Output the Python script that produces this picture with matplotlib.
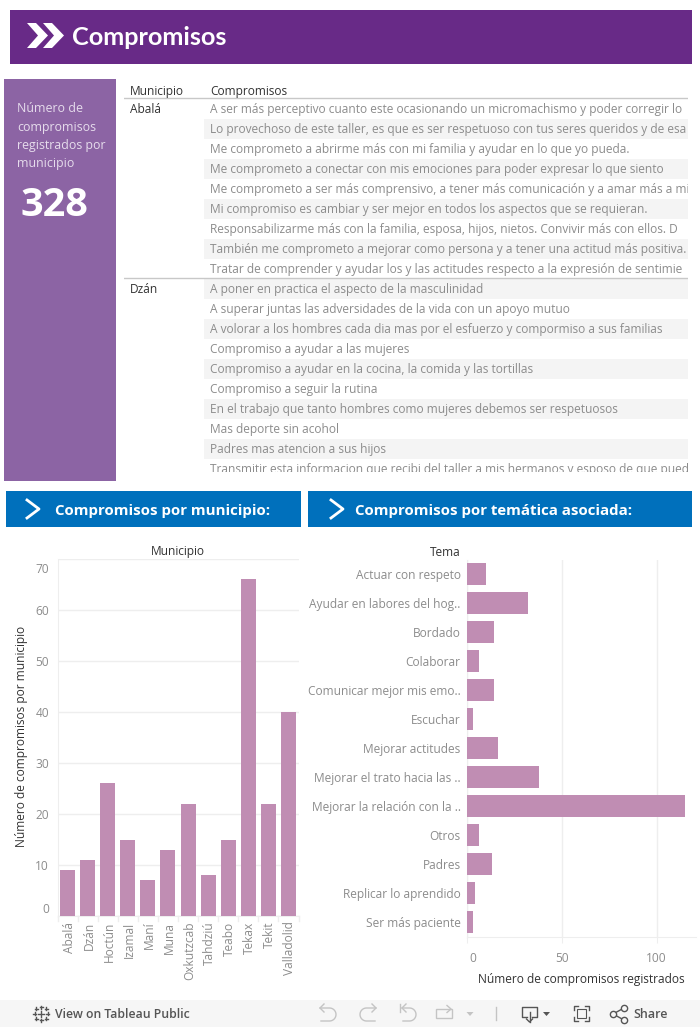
import matplotlib
matplotlib.use('Agg')
import numpy as np
import matplotlib.pyplot as plt
from matplotlib.patches import Rectangle, Polygon
from matplotlib.transforms import ScaledTranslation

plt.rcParams['font.family'] = ['Open Sans', 'DejaVu Sans']

municipios = ['Abalá', 'Dzán', 'Hoctún', 'Izamal', 'Maní', 'Muna', 'Oxkutzcab', 'Tahdziú',
              'Teabo', 'Tekax', 'Tekit', 'Valladolid']
por_municipio = [9, 11, 26, 15, 7, 13, 22, 8, 15, 66, 22, 40]
yticks_municipio = [0, 10, 20, 30, 40, 50, 60, 70]

temas = ['Actuar con respeto', 'Ayudar en labores del hog..', 'Bordado', 'Colaborar',
         'Comunicar mejor mis emo..', 'Escuchar', 'Mejorar actitudes', 'Mejorar el trato hacia las ..',
         'Mejorar la relación con la ..', 'Otros', 'Padres', 'Replicar lo aprendido', 'Ser más paciente']
por_tema = [10, 32, 14, 6, 14, 3, 16, 38, 115, 6, 13, 4, 3]
xticks_tema = [0, 50, 100]

total = '328'
compromisos_abala = [
    'A ser más perceptivo cuanto este ocasionando un micromachismo y poder corregir lo',
    'Lo provechoso de este taller, es que es ser respetuoso con tus seres queridos y de esa',
    'Me comprometo a abrirme más con mi familia y ayudar en lo que yo pueda.',
    'Me comprometo a conectar con mis emociones para poder expresar lo que siento',
    'Me comprometo a ser más comprensivo, a tener más comunicación y a amar más a mi',
    'Mi compromiso es cambiar y ser mejor en todos los aspectos que se requieran.',
    'Responsabilizarme más con la familia, esposa, hijos, nietos. Convivir más con ellos. D',
    'También me comprometo a mejorar como persona y a tener una actitud más positiva.',
    'Tratar de comprender y ayudar los y las actitudes respecto a la expresión de sentimie',
]
compromisos_dzan = [
    'A poner en practica el aspecto de la masculinidad',
    'A superar juntas las adversidades de la vida con un apoyo mutuo',
    'A volorar a los hombres cada dia mas por el esfuerzo y compormiso a sus familias',
    'Compromiso a ayudar a las mujeres',
    'Compromiso a ayudar en la cocina, la comida y las tortillas',
    'Compromiso a seguir la rutina',
    'En el trabajo que tanto hombres como mujeres debemos ser respetuosos',
    'Mas deporte sin acohol',
    'Padres mas atencion a sus hijos',
    'Transmitir esta informacion que recibi del taller a mis hermanos y esposo de que pued',
]

PURPLE = '#682a87'
PANEL = '#8c64a4'
BLUE = '#0070bc'
BAR = '#c08db3'
GRID = '#eeeeee'
GREY = '#8c8c8c'
DARK = '#333333'
FOOT = '#f6f6f6'
W, H = 700, 1027


def px_axes(fig, x0, y0, x1, y1):
    # axes placed and scaled in reference pixels, y going down
    ax = fig.add_axes([x0 / W, 1 - y1 / H, (x1 - x0) / W, (y1 - y0) / H])
    ax.set_xlim(x0, x1)
    ax.set_ylim(y1, y0)
    ax.axis('off')
    return ax


def shift(fig, label, dx, dy):
    # nudge a tick label by some pixels (dy up)
    label.set_transform(label.get_transform() + ScaledTranslation(dx / 100, dy / 100, fig.dpi_scale_trans))


def curved_arrow(ax, x_tip, x_bend, y_top, y_bot, color):
    # toolbar undo/redo arrow: straight top, half circle, straight bottom
    r = (y_bot - y_top) / 2
    sign = 1 if x_bend > x_tip else -1
    t = np.linspace(-np.pi / 2, np.pi / 2, 20)
    xs = np.concatenate([[x_tip], x_bend - sign * r + sign * r * np.cos(t), [x_tip + sign]])
    ys = np.concatenate([[y_top], y_top + r + r * np.sin(t), [y_bot]])
    ax.plot(xs, ys, color=color, lw=1)
    ax.plot([x_tip + sign * 4, x_tip, x_tip + sign * 4], [y_top - 4, y_top, y_top + 4], color=color, lw=1)


fig = plt.figure(figsize=(7, 10.27), dpi=100)
bg = px_axes(fig, 0, 0, W, H)

# banner
bg.add_patch(Rectangle((10, 10), 682, 54, color=PURPLE, lw=0))
for dx in (0, 16):
    bg.add_patch(Polygon([(27 + dx, 23), (36 + dx, 23), (48 + dx, 35.5), (36 + dx, 48), (27 + dx, 48), (38 + dx, 35.5)],
                         color='white', lw=0))
bg.text(72, 37.5, 'Compromisos', color='white', fontsize=18.2, fontweight='bold', family='Lato', va='center')

# kpi panel
bg.add_patch(Rectangle((4, 79), 112, 402, color=PANEL, lw=0))
for i, line in enumerate(['Número de', 'compromisos', 'registrados por', 'municipio']):
    bg.text(17, 109 + i * 18, line, color='#e6dcec', fontsize=8.9, va='center')
bg.text(20, 206, total, color='white', fontsize=28.5, fontweight='bold', va='center')

# section headers
for x0, x1, tx, cx, label in [(6, 301, 55, 27, 'Compromisos por municipio:'),
                              (308, 692, 355, 331, 'Compromisos por temática asociada:')]:
    bg.add_patch(Rectangle((x0, 491), x1 - x0, 36, color=BLUE, lw=0))
    bg.plot([cx, cx + 12, cx], [500, 509, 518], color='white', lw=2)
    bg.text(tx, 510.5, label, color='white', fontsize=10.8, fontweight='bold', va='center')

# table, clipped by its own axes
tb = px_axes(fig, 124, 79, 688, 472)
tb.text(130, 91, 'Municipio', color=DARK, fontsize=8.6, va='center', clip_on=True)
tb.text(210, 91, 'Compromisos', color=DARK, fontsize=8.6, va='center', clip_on=True)
tb.plot([124, 688], [98.5, 98.5], color='#c8c8c8', lw=1)
y = 99
for name, rows in [('Abalá', compromisos_abala), ('Dzán', compromisos_dzan)]:
    tb.text(130, y + 10.5, name, color=DARK, fontsize=8.6, va='center', clip_on=True)
    for i, row in enumerate(rows):
        if i % 2 == (1 if name == 'Abalá' else 0):
            tb.add_patch(Rectangle((204, y), 484, 20, color='#f4f4f4', lw=0))
        tb.text(210, y + 10.5, row, color=GREY, fontsize=8.6, va='center', clip_on=True)
        y += 20
    if name == 'Abalá':
        y = 279
        tb.plot([124, 688], [278.5, 278.5], color='#c8c8c8', lw=1)

# bars by municipality
ax = fig.add_axes([57.5 / W, 1 - 916 / H, 241 / W, 357 / H])
ax.bar(range(len(municipios)), por_municipio, width=0.75, color=BAR, zorder=3)
ax.set_xlim(-0.5, len(municipios) - 0.5)
ax.set_ylim(0, 70)
ax.set_yticks(yticks_municipio)
ax.set_xticks(range(len(municipios)))
ax.set_xticklabels(municipios, rotation=90, color=GREY, fontsize=8.6)
ax.tick_params(axis='x', length=0, pad=4)
ax.tick_params(axis='y', length=0, pad=6, labelcolor=GREY, labelsize=8.6)
ax.grid(axis='y', color=GRID, lw=1, zorder=0)
for lab in ax.get_xticklabels():
    shift(fig, lab, 1.5, 0)
for lab, val in zip(ax.get_yticklabels(), yticks_municipio):
    if val == 0:
        lab.set_va('bottom')
    if val == 70:
        lab.set_va('top')
        shift(fig, lab, 0, -4)
for s in ('top', 'right'):
    ax.spines[s].set_visible(False)
for s in ('left', 'bottom'):
    ax.spines[s].set_color(GRID)
ax.set_facecolor('none')
for i in range(len(municipios) + 1):
    bg.plot([57.5 + i * 241 / len(municipios)] * 2, [916, 921], color=GRID, lw=1)
bg.text(178, 551, 'Municipio', color=DARK, fontsize=8.6, ha='center', va='center')
bg.text(22, 736, 'Número de compromisos por municipio', color=DARK, fontsize=8.6, rotation=90,
        ha='center', va='center')

# bars by theme
ax2 = fig.add_axes([467.5 / W, 1 - 936.5 / H, 228 / W, 377 / H])
ax2.barh(range(len(temas)), por_tema, height=0.76, color=BAR, zorder=3)
ax2.set_ylim(len(temas) - 0.5, -0.5)
ax2.set_xlim(0, 120.6)
ax2.set_yticks(range(len(temas)))
ax2.set_yticklabels(temas, color=GREY, fontsize=8.6)
ax2.set_xticks(xticks_tema)
ax2.tick_params(axis='y', length=0, pad=5)
ax2.tick_params(axis='x', length=4, color=GRID, pad=7, labelcolor=GREY, labelsize=8.6)
ax2.grid(axis='x', color=GRID, lw=1, zorder=0)
for s in ('top', 'right'):
    ax2.spines[s].set_visible(False)
for s in ('left', 'bottom'):
    ax2.spines[s].set_color(GRID)
ax2.set_facecolor('none')
ax2.get_xticklabels()[0].set_ha('left')
shift(fig, ax2.get_xticklabels()[0], 2, 0)
bg.text(461, 552, 'Tema', color=DARK, fontsize=8.6, ha='right', va='center')
bg.text(581.5, 979, 'Número de compromisos registrados', color=DARK, fontsize=8.6, ha='center', va='center')

# footer bar
bg.add_patch(Rectangle((0, 1000), 700, 27, color=FOOT, lw=0))
for cx, cy, r in [(41, 1013.5, 3), (34.5, 1013.5, 1.5), (47.5, 1013.5, 1.5), (41, 1007, 1.5), (41, 1020, 1.5),
                  (36, 1008.5, 1.5), (46, 1008.5, 1.5), (36, 1018.5, 1.5), (46, 1018.5, 1.5)]:
    bg.plot([cx - r, cx + r], [cy, cy], color='#555555', lw=1)
    bg.plot([cx, cx], [cy - r, cy + r], color='#555555', lw=1)
bg.text(55, 1014, 'View on Tableau Public', color='#555555', fontsize=8.8, fontweight='semibold', va='center')
bg.text(633, 1014, 'Share', color='#555555', fontsize=9, fontweight='semibold', va='center')
ICON = '#c4c4c4'
curved_arrow(bg, 320, 336, 1008, 1021, ICON)
curved_arrow(bg, 376, 360, 1008, 1021, ICON)
curved_arrow(bg, 402, 416, 1008, 1021, ICON)
bg.plot([400, 400], [1004, 1012], color=ICON, lw=1)
bg.add_patch(plt.Rectangle((436, 1009), 16, 9, fill=False, ec=ICON, lw=1))
bg.plot([447, 451, 447], [1005.5, 1009, 1012.5], color=ICON, lw=1)
bg.add_patch(Polygon([(466.5, 1012), (473.5, 1012), (470, 1016)], color=ICON, lw=0))
bg.plot([495.5, 495.5], [1007, 1020], color=ICON, lw=1)
IC2 = '#555555'
bg.plot([527, 522, 522, 537, 537, 532], [1017, 1017, 1007, 1007, 1017, 1017], color=IC2, lw=1)
bg.plot([529.5, 529.5], [1012, 1022], color=IC2, lw=1)
bg.plot([526.5, 529.5, 532.5], [1019, 1022, 1019], color=IC2, lw=1)
bg.add_patch(Polygon([(543, 1012), (550, 1012), (546.5, 1016)], color=IC2, lw=0))
for x, sx in ((574, 1), (589, -1)):
    for yy, sy in ((1006, 1), (1021, -1)):
        bg.plot([x + sx * 4, x, x], [yy, yy, yy + sy * 4], color=IC2, lw=1)
bg.add_patch(Rectangle((577, 1009), 9, 9, fill=False, ec=IC2, lw=0.8))
bg.plot([624, 613, 624], [1008, 1014, 1020], color=IC2, lw=1, marker='o', ms=4.5, mfc=FOOT, mec=IC2, zorder=4)

fig.savefig('out.png', dpi=100)
